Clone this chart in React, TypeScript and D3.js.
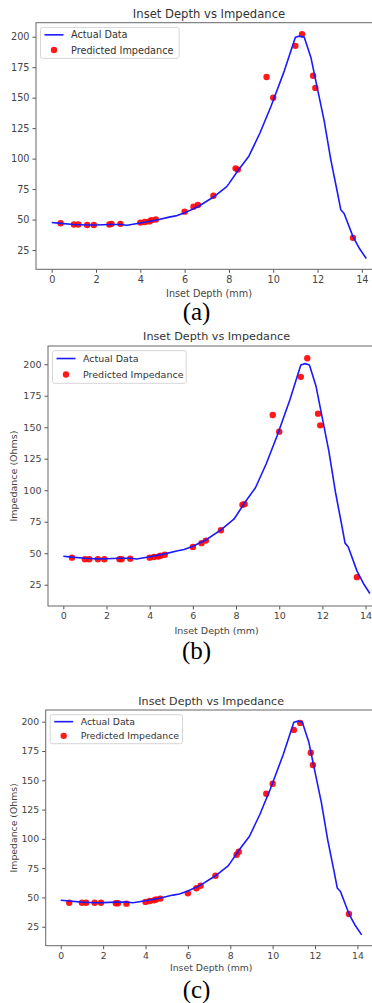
import React, { useEffect, useRef } from 'react';
import * as d3 from 'd3';

// actual curve (depth mm -> impedance ohms)
const ACTUAL_X = [0, 0.4, 1.0, 1.6, 2.0, 2.6, 3.1, 3.4, 4.0, 4.7, 5.3, 5.6, 6.0, 6.6, 7.3, 7.9, 8.0, 8.4, 8.9, 9.4, 9.9, 10.5, 11.0, 11.2, 11.4, 11.7, 12.0, 12.3, 12.6, 12.9, 13.05, 13.2, 13.6, 13.9, 14.2];
const ACTUAL_Y = [47.6, 46.9, 46.0, 45.5, 45.6, 46.0, 46.0, 45.4, 47.2, 49.5, 52.0, 53.0, 55.5, 60.5, 68.5, 77.0, 79.5, 90.0, 102.0, 121.0, 143.0, 172.0, 199.5, 200.5, 199.5, 183.0, 157.0, 131.0, 99.0, 72.0, 58.0, 55.0, 36.0, 26.0, 18.0];

// test depths and the three model predictions
const PRED_X = [0.4, 1.0, 1.2, 1.6, 1.9, 2.6, 2.7, 3.1, 4.0, 4.2, 4.4, 4.5, 4.7, 6.0, 6.4, 6.6, 7.3, 8.3, 8.4, 9.7, 10.0, 11.0, 11.3, 11.8, 11.9, 13.6];
const PRED_A = [47, 46, 46, 45.5, 45.5, 46, 46.5, 46.5, 47.5, 48, 48.5, 49.5, 50, 56.5, 60.5, 62, 69.5, 92, 91, 167, 150, 192.5, 202, 168, 158, 35];
const PRED_B = [46.5, 45.2, 45.2, 45.2, 45.2, 45.3, 45.3, 45.7, 46.5, 47, 47.3, 48, 48.8, 55, 58, 60, 68.2, 88.5, 89, 159.7, 146.5, 190, 204.8, 160.8, 151.5, 31];
const PRED_C = [45.5, 45.5, 45.5, 45.5, 45.5, 45, 45, 44.7, 46.2, 47, 47.5, 48.2, 49, 53.5, 57.8, 60, 68.5, 86.5, 89, 138.5, 147, 193, 199, 173.5, 163, 35.8];

const X_TICKS = [0, 2, 4, 6, 8, 10, 12, 14];
const Y_TICKS = [25, 50, 75, 100, 125, 150, 175, 200];

const TITLE = 'Inset Depth vs Impedance';
const X_LABEL = 'Inset Depth (mm)';
const Y_LABEL = 'Impedance (Ohms)';
const LEGEND = ['Actual Data', 'Predicted Impedance'];

const panels = [
  { caption: '(a)', pred: PRED_A, yLabel: false, left: 36, right: 382, top: 22.7, bottom: 269.3, yDom: [9.2, 211.5], fs: 9.7, tfs: 11.6, titleGap: 8.7, lblGap: 23.7, legW: 138.6, legH: 31, capY: 320 },
  { caption: '(b)', pred: PRED_B, yLabel: true, left: 48, right: 385.2, top: 346, bottom: 606, yDom: [8.1, 214.5], fs: 9.5, tfs: 11.2, titleGap: 10, lblGap: 24.7, legW: 133.7, legH: 32.6, capY: 659 },
  { caption: '(c)', pred: PRED_C, yLabel: true, left: 45.7, right: 376.7, top: 710, bottom: 945.7, yDom: [8.8, 210], fs: 9.3, tfs: 11.1, titleGap: 8.3, lblGap: 22, legW: 132.3, legH: 29, capY: 997.5 },
];

const W = 372;
const H = 1003;
const FONT = 'DejaVu Sans, sans-serif';

const App = () => {
  const svgRef = useRef<SVGSVGElement>(null);

  useEffect(() => {
    const svg = d3.select(svgRef.current);
    svg.selectAll('*').remove();

    panels.forEach((p) => {
      const g = svg.append('g');
      const x = d3.scaleLinear().domain([-0.71, 14.91]).range([p.left, p.right]);
      const y = d3.scaleLinear().domain(p.yDom).range([p.bottom, p.top]);
      const midX = (p.left + p.right) / 2;

      // scatter first, line on top (matplotlib zorder)
      g.append('g')
        .selectAll('circle')
        .data(PRED_X.map((d, i) => [d, p.pred[i]]))
        .join('circle')
        .attr('cx', (d) => x(d[0]))
        .attr('cy', (d) => y(d[1]))
        .attr('r', 3.2)
        .attr('fill', '#ff0000')
        .attr('opacity', 0.9);

      const line = d3.line<number>()
        .x((d) => x(d))
        .y((d, i) => y(ACTUAL_Y[i]));

      g.append('path')
        .datum(ACTUAL_X)
        .attr('d', line)
        .attr('fill', 'none')
        .attr('stroke', '#1a1aff')
        .attr('stroke-width', 1.6)
        .attr('stroke-linejoin', 'round');

      // axes
      const xAxis = g.append('g')
        .attr('transform', `translate(0,${p.bottom})`)
        .call(d3.axisBottom(x).tickValues(X_TICKS).tickSize(3.5).tickPadding(3).tickSizeOuter(0));
      const yAxis = g.append('g')
        .attr('transform', `translate(${p.left},0)`)
        .call(d3.axisLeft(y).tickValues(Y_TICKS).tickSize(3.5).tickPadding(3).tickSizeOuter(0));

      [xAxis, yAxis].forEach((ax) => {
        ax.select('.domain').remove();
        ax.selectAll('line').attr('stroke', '#555');
        ax.selectAll('text')
          .attr('fill', '#444')
          .attr('font-family', FONT)
          .attr('font-size', p.fs);
      });

      g.append('rect')
        .attr('x', p.left)
        .attr('y', p.top)
        .attr('width', p.right - p.left)
        .attr('height', p.bottom - p.top)
        .attr('fill', 'none')
        .attr('stroke', '#666')
        .attr('stroke-width', 1);

      g.append('text')
        .attr('x', midX)
        .attr('y', p.top - p.titleGap)
        .attr('text-anchor', 'middle')
        .attr('dominant-baseline', 'central')
        .attr('font-family', FONT)
        .attr('font-size', p.tfs)
        .attr('fill', '#333')
        .text(TITLE);

      g.append('text')
        .attr('x', midX)
        .attr('y', p.bottom + p.lblGap)
        .attr('text-anchor', 'middle')
        .attr('dominant-baseline', 'central')
        .attr('font-family', FONT)
        .attr('font-size', p.fs)
        .attr('fill', '#444')
        .text(X_LABEL);

      if (p.yLabel) {
        const cy = (p.top + p.bottom) / 2;
        g.append('text')
          .attr('transform', `translate(13,${cy}) rotate(-90)`)
          .attr('text-anchor', 'middle')
          .attr('dominant-baseline', 'central')
          .attr('font-family', FONT)
          .attr('font-size', p.fs)
          .attr('fill', '#444')
          .text(Y_LABEL);
      }

      // legend
      const lx = p.left + 4.5;
      const ly = p.top + 4.7;
      const leg = g.append('g');
      leg.append('rect')
        .attr('x', lx)
        .attr('y', ly)
        .attr('width', p.legW)
        .attr('height', p.legH)
        .attr('rx', 2)
        .attr('fill', 'white')
        .attr('fill-opacity', 0.8)
        .attr('stroke', '#d6d6d6');
      const r1 = ly + p.legH * 0.24;
      const r2 = ly + p.legH * 0.73;
      leg.append('line')
        .attr('x1', lx + 4)
        .attr('x2', lx + 23)
        .attr('y1', r1)
        .attr('y2', r1)
        .attr('stroke', '#1a1aff')
        .attr('stroke-width', 1.6);
      leg.append('circle')
        .attr('cx', lx + 13.5)
        .attr('cy', r2)
        .attr('r', 3.2)
        .attr('fill', '#ff0000')
        .attr('opacity', 0.9);
      [r1, r2].forEach((ry, i) => {
        leg.append('text')
          .attr('x', lx + 30.5)
          .attr('y', ry)
          .attr('dominant-baseline', 'central')
          .attr('font-family', FONT)
          .attr('font-size', p.fs)
          .attr('fill', '#333')
          .text(LEGEND[i]);
      });

      svg.append('text')
        .attr('x', 196.5)
        .attr('y', p.capY)
        .attr('text-anchor', 'middle')
        .attr('font-family', 'Liberation Serif, Times New Roman, serif')
        .attr('font-size', 25)
        .attr('fill', '#000')
        .text(p.caption);
    });
  }, []);

  return (
    <svg
      ref={svgRef}
      width={W}
      height={H}
      style={{ position: 'absolute', left: 0, top: 0, background: 'white' }}
    />
  );
};

export default App;
